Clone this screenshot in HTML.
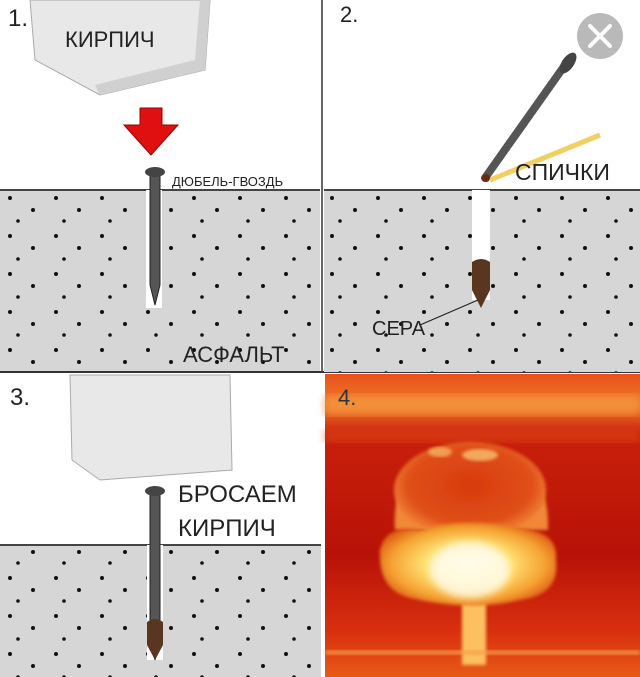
<!DOCTYPE html>
<html><head><meta charset="utf-8"><style>
html,body{margin:0;padding:0;background:#fff;}
svg{display:block}
text{font-family:"Liberation Sans",sans-serif;fill:#222}
</style></head><body>
<svg width="640" height="677" viewBox="0 0 640 677" xmlns="http://www.w3.org/2000/svg">
<defs>
<pattern id="dots" width="46" height="38" patternUnits="userSpaceOnUse">
<circle cx="10" cy="8" r="2" fill="#111"/><circle cx="33" cy="20" r="2" fill="#111"/><circle cx="18" cy="31" r="1.8" fill="#111"/>
</pattern>
<linearGradient id="sky" x1="0" y1="0" x2="0" y2="1">
<stop offset="0" stop-color="#e8501a"/><stop offset="0.1" stop-color="#f07a2a"/><stop offset="0.2" stop-color="#c8200a"/><stop offset="0.6" stop-color="#b81208"/><stop offset="0.85" stop-color="#d8300e"/><stop offset="1" stop-color="#e85a18"/>
</linearGradient>
<radialGradient id="cap" cx="0.5" cy="0.5" r="0.55">
<stop offset="0" stop-color="#fffbe0"/><stop offset="0.45" stop-color="#ffe070"/><stop offset="0.8" stop-color="#f4a030"/><stop offset="1" stop-color="#e06018"/>
</radialGradient>
<radialGradient id="top" cx="0.5" cy="0.45" r="0.55">
<stop offset="0" stop-color="#d83a0c"/><stop offset="0.75" stop-color="#e0501a"/><stop offset="1" stop-color="#f08838"/>
</radialGradient>
<filter id="bl"><feGaussianBlur stdDeviation="1.5"/></filter>
<filter id="bl3"><feGaussianBlur stdDeviation="4"/></filter>
</defs>

<!-- Panel 1 -->
<rect x="0" y="190" width="321" height="182" fill="#d6d6d6"/>
<rect x="0" y="190" width="321" height="182" fill="url(#dots)"/>
<line x1="0" y1="190" x2="321" y2="190" stroke="#444" stroke-width="2"/>
<polygon points="30,0 210,0 205,70 100,95 35,60" fill="#e8e8e8" stroke="#aaa"/>
<polygon points="100,95 205,70 210,0 200,0 195,60 95,85" fill="#d0d0d0"/>
<text x="8" y="26" font-size="24">1.</text>
<text x="65" y="47" font-size="22">КИРПИЧ</text>
<polygon points="140,108 162,108 162,125 178,125 151,155 124,125 140,125" fill="#e01010" stroke="#900" stroke-width="1"/>
<rect x="146" y="190" width="16" height="118" fill="#fff"/>
<polygon points="150,170 160,170 160,285 155,305 150,285" fill="#555" stroke="#222"/>
<ellipse cx="155" cy="172" rx="10" ry="5" fill="#444"/>
<text x="172" y="186" font-size="13">ДЮБЕЛЬ-ГВОЗДЬ</text>
<text x="183" y="362" font-size="22">АСФАЛЬТ</text>

<!-- Divider -->
<rect x="320" y="0" width="4" height="677" fill="#fff"/>
<line x1="322" y1="0" x2="322" y2="372" stroke="#333" stroke-width="1.5"/>
<line x1="0" y1="372" x2="640" y2="372" stroke="#333" stroke-width="2"/>

<!-- Panel 2 -->
<rect x="324" y="190" width="316" height="182" fill="#d6d6d6"/>
<rect x="324" y="190" width="316" height="182" fill="url(#dots)"/>
<line x1="324" y1="190" x2="640" y2="190" stroke="#444" stroke-width="2"/>
<rect x="472" y="190" width="18" height="110" fill="#fff"/>
<path d="M472,262 Q481,256 490,262 L490,290 L481,308 L472,290Z" fill="#5a3520"/>
<text x="340" y="22" font-size="22">2.</text>
<line x1="490" y1="180" x2="600" y2="135" stroke="#f0d060" stroke-width="5"/>
<line x1="485" y1="178" x2="565" y2="65" stroke="#555" stroke-width="8" stroke-linecap="round"/>
<ellipse cx="568" cy="63" rx="12" ry="6" fill="#444" transform="rotate(-55 568 63)"/>
<circle cx="486" cy="178" r="4" fill="#6a2a10"/>
<text x="515" y="180" font-size="23">СПИЧКИ</text>
<text x="372" y="335" font-size="20">СЕРА</text>
<line x1="420" y1="325" x2="478" y2="300" stroke="#222" stroke-width="1.2"/>
<circle cx="600" cy="36" r="23" fill="#b9b9b9"/>
<path d="M590,26 L610,46 M610,26 L590,46" stroke="#fff" stroke-width="4" stroke-linecap="round"/>

<!-- Panel 3 -->
<rect x="0" y="545" width="321" height="132" fill="#d6d6d6"/>
<rect x="0" y="545" width="321" height="132" fill="url(#dots)"/>
<line x1="0" y1="545" x2="321" y2="545" stroke="#444" stroke-width="2"/>
<polygon points="70,375 230,375 232,470 100,480 72,460" fill="#e8e8e8" stroke="#aaa"/>
<text x="10" y="405" font-size="24">3.</text>
<rect x="147" y="545" width="16" height="115" fill="#fff"/>
<polygon points="150,490 160,490 160,640 155,660 150,640" fill="#555" stroke="#222"/>
<path d="M147,622 Q155,616 163,622 L163,645 L155,660 L147,645Z" fill="#5a3520"/>
<ellipse cx="155" cy="491" rx="10" ry="5" fill="#444"/>
<text x="178" y="502" font-size="24">БРОСАЕМ</text>
<text x="178" y="536" font-size="24">КИРПИЧ</text>

<!-- Panel 4 -->
<rect x="325" y="374" width="315" height="303" fill="url(#sky)"/>
<rect x="325" y="395" width="315" height="20" fill="#f4943c" filter="url(#bl3)" opacity="0.8"/>
<rect x="325" y="430" width="315" height="12" fill="#e04a14" filter="url(#bl3)" opacity="0.6"/>
<rect x="462" y="595" width="24" height="70" fill="#fcc060" filter="url(#bl)"/>
<path d="M395,530 Q390,455 470,443 Q550,450 548,530 Z" fill="url(#top)" filter="url(#bl)"/>
<ellipse cx="470" cy="490" rx="76" ry="48" fill="url(#top)" filter="url(#bl)"/>
<path d="M380,550 Q385,525 420,530 Q470,515 530,530 Q558,535 556,560 Q560,595 520,600 Q470,612 410,598 Q378,590 380,550Z" fill="url(#cap)" filter="url(#bl)"/>
<ellipse cx="470" cy="570" rx="40" ry="28" fill="#fffcea" opacity="0.85" filter="url(#bl3)"/>
<ellipse cx="480" cy="455" rx="18" ry="6" fill="#f8c070" opacity="0.8" filter="url(#bl)"/>
<ellipse cx="440" cy="452" rx="12" ry="5" fill="#f8c070" opacity="0.7" filter="url(#bl)"/>
<rect x="325" y="650" width="315" height="5" fill="#f4a050" opacity="0.7" filter="url(#bl)"/>
<text x="338" y="405" font-size="22" style="fill:#333">4.</text>
</svg>
</body></html>
